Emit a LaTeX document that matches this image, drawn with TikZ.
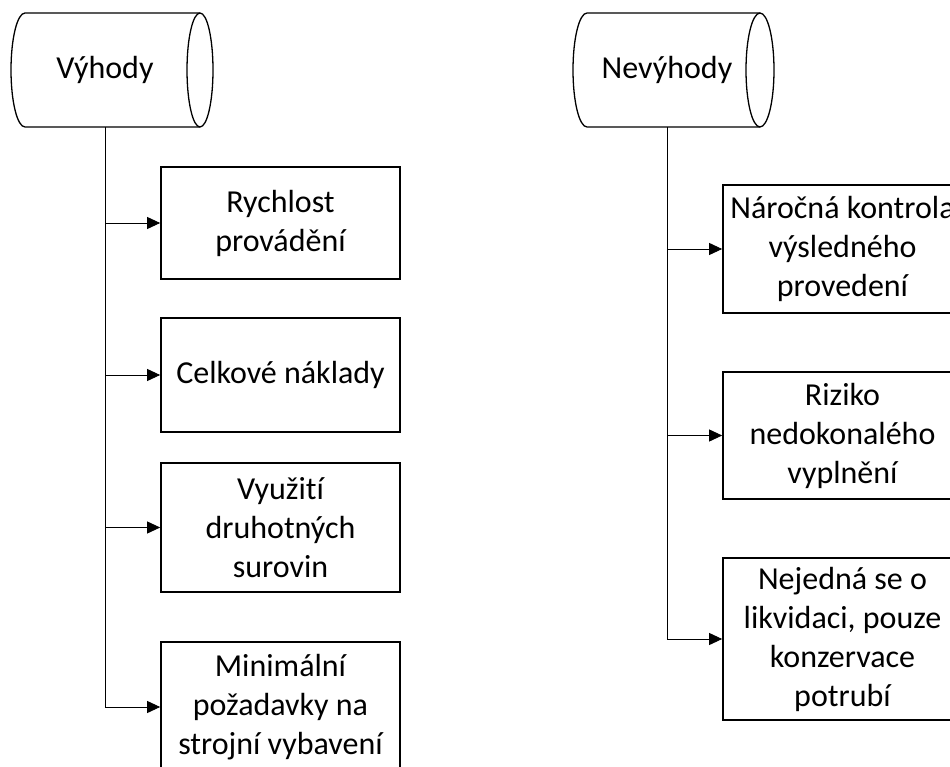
\documentclass[tikz,border=0pt]{standalone}
\usepackage{fontspec}
\setmainfont{Carlito}[Ligatures=NoCommon]
\usetikzlibrary{arrows.meta}
\begin{document}
\begin{tikzpicture}[x=1pt,y=1pt,
  every node/.style={font=\fontsize{32}{39}\selectfont, align=center, inner sep=0pt},
  itembox/.style={draw, line width=1.7pt, minimum width=239pt},
  cyllabel/.style={minimum height=114pt},
  cylline/.style={line width=1.3pt},
  link/.style={line width=0.9pt, -{Triangle[length=13pt,width=12pt]}}]
\clip (0,0) rectangle (950,-767);
\fill[white] (0,0) rectangle (950,-767);

% left cylinder
\draw[cylline] (25,-13) -- (200,-13) (200,-127) -- (25,-127)
  arc[start angle=270,end angle=90,x radius=14,y radius=57];
\draw[cylline] (200,-70) ellipse[x radius=13,y radius=57];
\node[cyllabel] (adv) at (105,-70) {Výhody};

% right cylinder
\draw[cylline] (587,-13) -- (760,-13) (760,-127) -- (587,-127)
  arc[start angle=270,end angle=90,x radius=14,y radius=57];
\draw[cylline] (760,-70) ellipse[x radius=14,y radius=57];
\node[cyllabel] (dis) at (667,-70) {Nevýhody};

% advantages
\node[itembox, minimum height=112pt] (a1) at (280.5,-223) {Rychlost\\provádění};
\node[itembox, minimum height=114pt] (a2) at (280.5,-375) {Celkové náklady};
\node[itembox, minimum height=129pt] (a3) at (280.5,-527.5) {Využití\\druhotných\\surovin};
\node[itembox, minimum height=130pt] (a4) at (280.5,-707) {Minimální\\požadavky na\\strojní vybavení};

% disadvantages
\node[itembox, minimum height=128pt] (b1) at (842.5,-249) {Náročná kontrola\\výsledného\\provedení};
\node[itembox, minimum height=127pt] (b2) at (842.5,-435.5) {Riziko\\nedokonalého\\vyplnění};
\node[itembox, minimum height=162pt] (b3) at (842.5,-639) {Nejedná se o\\likvidaci, pouze\\konzervace\\potrubí};

% connectors
\foreach \t in {a1,a2,a3,a4} \draw[link] (adv.south) |- (\t.west);
\foreach \t in {b1,b2,b3} \draw[link] (dis.south) |- (\t.west);
\end{tikzpicture}
\end{document}
